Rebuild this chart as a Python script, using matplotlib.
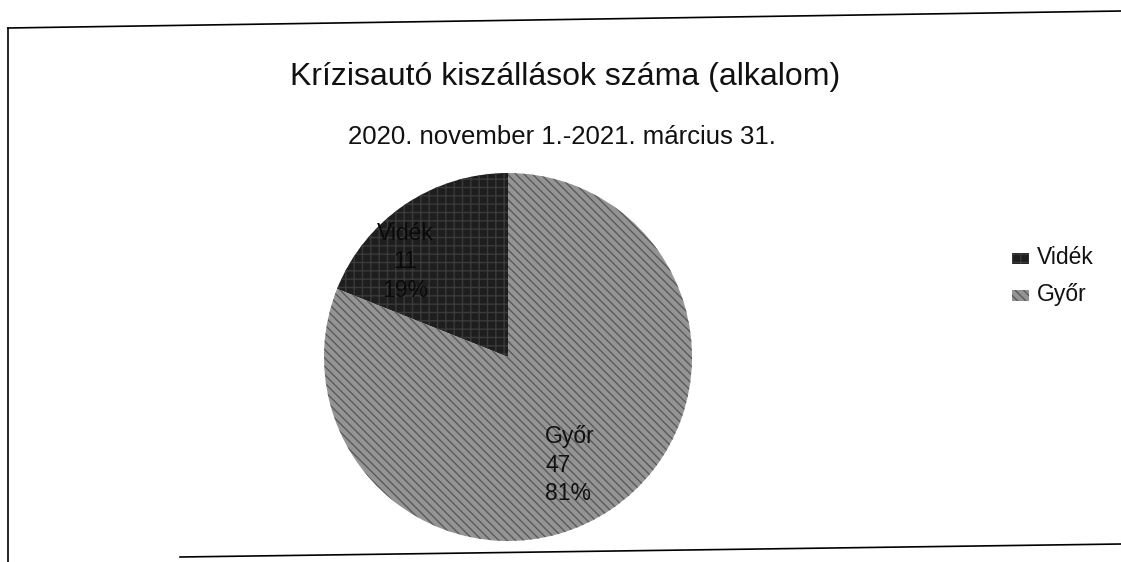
import matplotlib
matplotlib.use("Agg")
import matplotlib.pyplot as plt
from matplotlib.patches import Rectangle
from matplotlib.lines import Line2D

plt.rcParams['font.family'] = ['Liberation Sans', 'DejaVu Sans']
plt.rcParams['hatch.linewidth'] = 1.0

title = "Krízisautó kiszállások száma (alkalom)"
subtitle = "2020. november 1.-2021. március 31."
categories = ["Vidék", "Győr"]
values = [11, 47]
percents = ["19%", "81%"]
colors = ["#1e1e1e", "#949494"]
hatches = ["++", "\\\\\\\\"]
hatch_colors = ["#3a3a3a", "#5a5a5a"]

W, H = 1121, 562
fig = plt.figure(figsize=(W / 100, H / 100), dpi=100)
fig.patch.set_facecolor("white")


def px(x, y):
    return x / W, 1 - y / H


# scanned frame lines
for (x0, y0), (x1, y1) in [((8, 28), (1121, 11)), ((8, 28), (8, 562)), ((180, 557), (1121, 544))]:
    a, b = px(x0, y0), px(x1, y1)
    fig.add_artist(Line2D([a[0], b[0]], [a[1], b[1]], color="black", lw=1.2,
                          transform=fig.transFigure))

tx, ty = px(565, 85)
fig.text(tx, ty, title, ha="center", va="baseline", fontsize=23, color="#111111")
tx, ty = px(562, 144)
fig.text(tx, ty, subtitle, ha="center", va="baseline", fontsize=18.5, color="#111111")

r = 184
cx, cy = 508, 357
ax = fig.add_axes([(cx - r) / W, (H - cy - r) / H, 2 * r / W, 2 * r / H])
wedges, _ = ax.pie(values, colors=colors, startangle=90, counterclock=True,
                   wedgeprops=dict(linewidth=0))
for w, h, hc in zip(wedges, hatches, hatch_colors):
    w.set_hatch(h)
    w.set_edgecolor(hc)
    w.set_linewidth(0)
ax.set_aspect("equal")
ax.set_xlim(-1, 1)
ax.set_ylim(-1, 1)
ax.axis("off")


def to_data(x, y):
    return (x - cx) / r, (cy - y) / r


lx, ly = to_data(545, 465)
ax.text(lx, ly, f"{categories[1]}\n{values[1]}\n{percents[1]}", ha="left", va="center",
        fontsize=16.5, color="#111111", linespacing=1.3)
lx, ly = to_data(405, 262)
ax.text(lx, ly, f"{categories[0]}\n{values[0]}\n{percents[0]}", ha="center", va="center",
        fontsize=16.5, color="#0a0a0a", linespacing=1.3)

# legend
for i, (c, h, hc) in enumerate(zip(colors, hatches, hatch_colors)):
    yy = 258 + 37 * i
    x0, y0 = px(1012, yy + 6)
    sq = Rectangle((x0, y0), 17 / W, 11 / H, transform=fig.transFigure,
                   facecolor=c, edgecolor=hc, hatch=h, lw=0)
    fig.add_artist(sq)
    tx, ty = px(1037, yy)
    fig.text(tx, ty, categories[i], ha="left", va="center", fontsize=16.5, color="#111111")

fig.savefig("out.png", dpi=100)
